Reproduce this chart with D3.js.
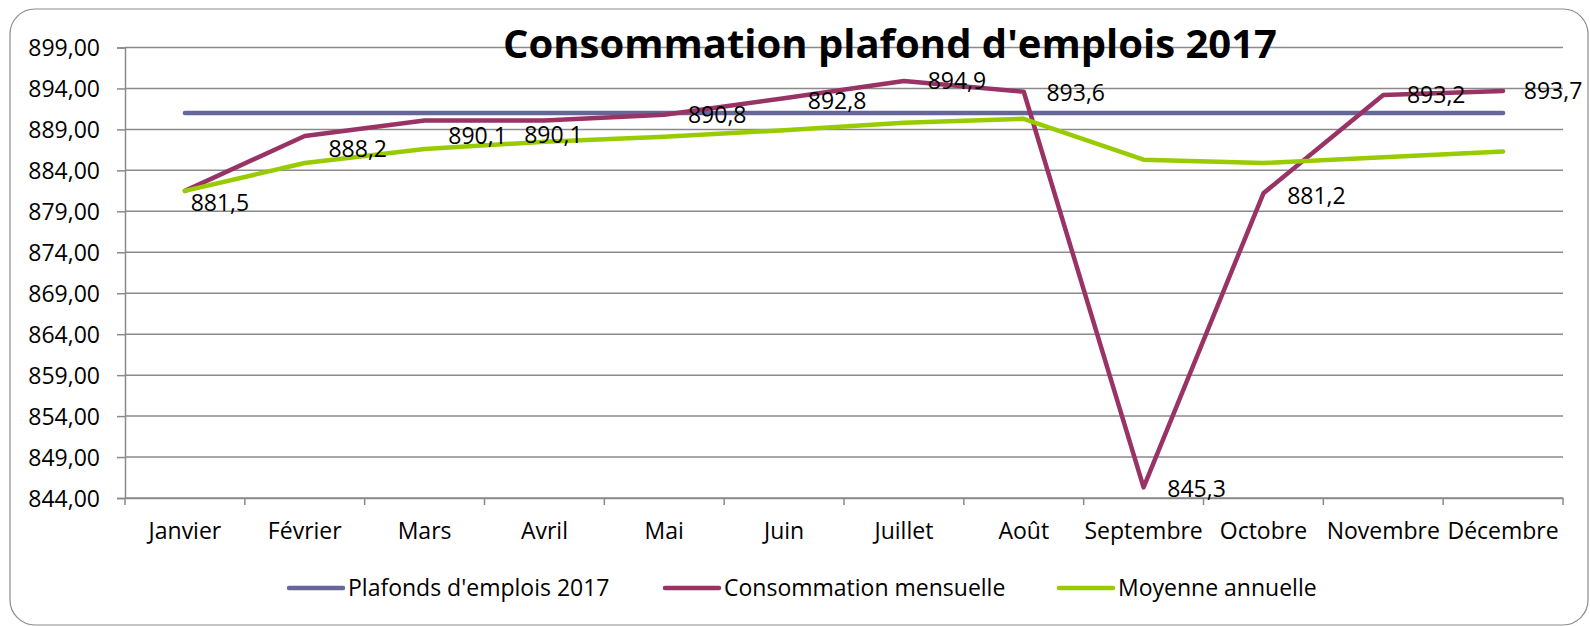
<!DOCTYPE html>
<html lang="fr">
<head>
    <meta charset="UTF-8">
    <title>Consommation plafond d'emplois 2017</title>
    <script src="https://cdn.jsdelivr.net/npm/d3@7/dist/d3.min.js"></script>
    <style>
        body { margin: 0; background: #fff; }
        svg { display: block; font-family: "Open Sans", "Noto Sans", sans-serif; }
    </style>
</head>
<body>
    <svg width="1590" height="626" id="mainsvg"></svg>
    <script>
        // données
        const mois = ['Janvier', 'Février', 'Mars', 'Avril', 'Mai', 'Juin', 'Juillet', 'Août',
            'Septembre', 'Octobre', 'Novembre', 'Décembre'];
        const plafonds = [891, 891, 891, 891, 891, 891, 891, 891, 891, 891, 891, 891];
        const consommation = [881.5, 888.2, 890.1, 890.1, 890.8, 892.8, 894.9, 893.6, 845.3, 881.2, 893.2, 893.7];
        const moyenne = [881.5, 884.9, 886.6, 887.5, 888.1, 888.9, 889.8, 890.3, 885.3, 884.9, 885.6, 886.3];
        const yTicks = [844, 849, 854, 859, 864, 869, 874, 879, 884, 889, 894, 899];
        const seriesNames = ["Plafonds d'emplois 2017", 'Consommation mensuelle', 'Moyenne annuelle'];
        const titre = "Consommation plafond d'emplois 2017";

        // décalage des étiquettes de données (px)
        const labelDx = [35, 53, 53, 9, 53, 53, 53, 52, 53, 53, 53, 50];
        const labelDy = [12, 12.5, 15, 14, 0, 2.6, 0, 1, 1, 2, 0, 0];

        const colors = ['#666699', '#993366', '#99cc00'];
        const gridColor = '#8a8a8a';

        const svg = d3.select('svg');
        const fr = d3.formatLocale({decimal: ',', thousands: ' ', grouping: [3], currency: ['', ' €']});
        const fmtAxis = fr.format('.2f');
        const fmtLabel = fr.format('.1f');

        const margin = {top: 47.5, left: 125, right: 27, bottom: 128};
        const width = +svg.attr('width');
        const height = +svg.attr('height');

        // cadre arrondi
        svg.append('rect')
            .attr('x', 10).attr('y', 9)
            .attr('width', 1578).attr('height', 616)
            .attr('rx', 25).attr('ry', 25)
            .attr('fill', '#fff').attr('stroke', '#8c8c8c').attr('stroke-width', 1.2);

        const x = d3.scaleBand().domain(mois).range([margin.left, width - margin.right]).padding(0);
        const y = d3.scaleLinear().domain([844, 899]).range([height - margin.bottom, margin.top]);
        const cx = d => x(d) + x.bandwidth() / 2;

        // grille horizontale
        svg.append('g').selectAll('line').data(yTicks).join('line')
            .attr('x1', margin.left).attr('x2', width - margin.right)
            .attr('y1', d => y(d)).attr('y2', d => y(d))
            .attr('stroke', gridColor).attr('stroke-width', 1.5);

        // axe Y
        const yAxis = d3.axisLeft(y).tickValues(yTicks).tickFormat(fmtAxis).tickSize(8).tickPadding(17);
        const yAxisGroup = svg.append('g').attr('transform', `translate(${margin.left},0)`).call(yAxis);
        yAxisGroup.select('.domain').attr('stroke', gridColor).attr('stroke-width', 1.5);
        yAxisGroup.selectAll('.tick line').attr('stroke', gridColor).attr('stroke-width', 1.5);
        yAxisGroup.selectAll('.tick text').attr('font-size', 23).attr('fill', '#000')
            .attr('font-family', '"Open Sans", sans-serif').attr('dy', '0.36em');

        // axe X : graduations entre les catégories
        const xAxis = d3.axisBottom(x).tickSize(0).tickPadding(25);
        const xAxisGroup = svg.append('g').attr('transform', `translate(0,${y(844)})`).call(xAxis);
        xAxisGroup.select('.domain').attr('stroke', gridColor).attr('stroke-width', 1.5);
        xAxisGroup.selectAll('.tick text').attr('font-size', 23).attr('fill', '#000')
            .attr('font-family', '"Open Sans", sans-serif');
        const edges = mois.map(d => x(d)).concat([x.range()[1]]);
        xAxisGroup.selectAll('.edge').data(edges).join('line').attr('class', 'edge')
            .attr('x1', d => d).attr('x2', d => d).attr('y1', 0).attr('y2', 7)
            .attr('stroke', gridColor).attr('stroke-width', 1.5);

        // titre
        svg.append('text').text(titre)
            .attr('x', 503).attr('y', 58)
            .attr('font-size', 40).attr('font-weight', 'bold').attr('fill', '#000');

        // séries
        const line = d3.line().x((d, i) => cx(mois[i])).y(d => y(d));
        [plafonds, consommation, moyenne].forEach((s, k) => {
            svg.append('path').datum(s)
                .attr('d', line)
                .attr('fill', 'none')
                .attr('stroke', colors[k])
                .attr('stroke-width', 4.5)
                .attr('stroke-linejoin', 'round')
                .attr('stroke-linecap', 'round');
        });

        // étiquettes de données
        svg.append('g').selectAll('text').data(consommation).join('text')
            .attr('x', (d, i) => cx(mois[i]) + labelDx[i])
            .attr('y', (d, i) => y(d) + labelDy[i])
            .attr('dy', '0.36em')
            .attr('text-anchor', 'middle')
            .attr('font-size', 23).attr('fill', '#000')
            .text(d => fmtLabel(d));

        // légende
        const legendX = [289, 665, 1059];
        const legend = svg.append('g').selectAll('g').data(seriesNames).join('g')
            .attr('transform', (d, i) => `translate(${legendX[i]},588)`);
        legend.append('line')
            .attr('x1', 0).attr('x2', 54).attr('y1', 0).attr('y2', 0)
            .attr('stroke', (d, i) => colors[i]).attr('stroke-width', 4.5).attr('stroke-linecap', 'round');
        legend.append('text').text(d => d)
            .attr('x', 59).attr('y', 0).attr('dy', '0.36em')
            .attr('font-size', 23).attr('fill', '#000');
    </script>
</body>
</html>
